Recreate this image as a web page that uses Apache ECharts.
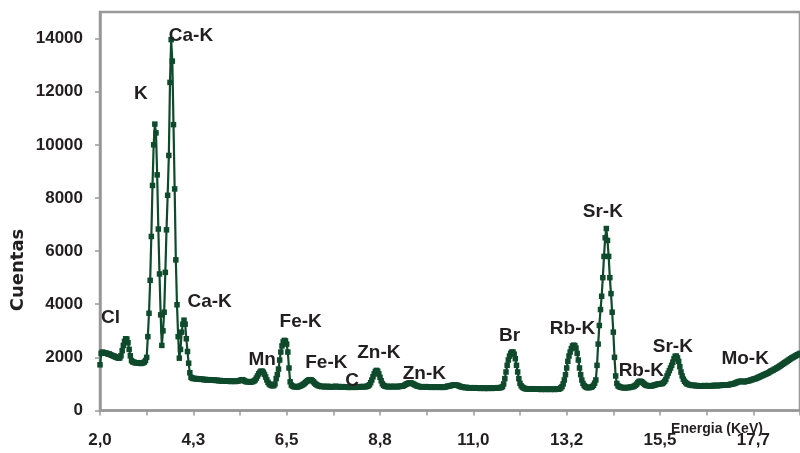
<!DOCTYPE html>
<html>
<head>
<meta charset="utf-8">
<script src="https://cdn.jsdelivr.net/npm/echarts@6/dist/echarts.min.js"></script>
<style>html,body{margin:0;padding:0;background:#fff;}#c{width:800px;height:453px;}</style>
</head>
<body>
<div id="c"></div>
<script>
// Energy axis (keV): first channel and channel width
const energyStart = 2.04;
const energyStep = 0.028;
// X tick labels, one every 80 channels
const xTickLabels = ['2,0', '4,3', '6,5', '8,8', '11,0', '13,2', '15,5', '17,7'];
// Y tick values
const yTickValues = [0, 2000, 4000, 6000, 8000, 10000, 12000, 14000];

// Counts per channel
const counts = [
1720, 2150, 2200, 2180, 2170, 2160, 2150, 2120, 2130, 2100,
2080, 2060, 2050, 2020, 2000, 1990, 1970, 1980, 2060, 2250,
2450, 2600, 2700, 2690, 2550, 2300, 2060, 1880, 1830, 1820,
1800, 1790, 1800, 1780, 1790, 1770, 1780, 1800, 1820, 1880,
2000, 2780, 3660, 4900, 6550, 8470, 10000, 10780, 10450, 8870,
6830, 5140, 3600, 2450, 3000, 3700, 5200, 6800, 8100, 9600,
12350, 13960, 13150, 10760, 8340, 5670, 3980, 2780, 1970, 2300,
2950, 3250, 3400, 3250, 2700, 2220, 1780, 1420, 1250, 1220,
1200, 1210, 1190, 1200, 1180, 1190, 1180, 1170, 1180, 1160,
1170, 1150, 1160, 1150, 1160, 1140, 1150, 1140, 1150, 1130,
1140, 1130, 1120, 1130, 1110, 1120, 1110, 1120, 1100, 1110,
1100, 1110, 1090, 1100, 1110, 1100, 1090, 1100, 1110, 1120,
1130, 1150, 1160, 1140, 1110, 1090, 1080, 1090, 1080, 1070,
1080, 1090, 1110, 1150, 1220, 1300, 1380, 1440, 1480, 1480,
1440, 1360, 1260, 1150, 1060, 1000, 960, 940, 930, 940,
1000, 1200, 1350, 1560, 1900, 2200, 2430, 2580, 2640, 2620,
2500, 2200, 1600, 1080, 960, 920, 900, 890, 900, 880,
900, 910, 930, 950, 980, 1010, 1050, 1090, 1120, 1150,
1160, 1150, 1120, 1080, 1030, 990, 960, 940, 920, 910,
900, 910, 900, 890, 900, 910, 900, 890, 880, 900,
890, 900, 910, 900, 890, 900, 880, 890, 900, 890,
880, 890, 880, 870, 880, 870, 880, 890, 880, 870,
880, 890, 880, 900, 890, 900, 900, 890, 900, 910,
930, 970, 1050, 1150, 1270, 1380, 1470, 1510, 1480, 1380,
1250, 1120, 1010, 950, 920, 910, 900, 890, 900, 910,
900, 890, 900, 910, 900, 890, 900, 910, 920, 910,
930, 950, 980, 1000, 1020, 1040, 1040, 1030, 1010, 990,
960, 940, 920, 910, 900, 890, 890, 880, 890, 900,
890, 880, 890, 880, 870, 880, 890, 880, 870, 880,
890, 880, 870, 880, 870, 880, 890, 900, 910, 920,
930, 940, 950, 960, 960, 960, 950, 940, 920, 900,
890, 880, 870, 860, 870, 860, 850, 860, 850, 840,
850, 860, 850, 840, 850, 840, 830, 840, 850, 840,
830, 840, 830, 840, 850, 840, 830, 840, 850, 840,
850, 860, 850, 860, 870, 900, 1000, 1200, 1450, 1700,
1900, 2050, 2150, 2200, 2200, 2120, 1950, 1700, 1450, 1200,
1020, 930, 880, 850, 830, 820, 810, 820, 810, 800,
810, 820, 810, 800, 810, 800, 810, 800, 790, 800,
810, 800, 790, 800, 810, 800, 790, 800, 810, 800,
790, 800, 810, 800, 820, 850, 900, 1000, 1150, 1350,
1600, 1850, 2050, 2200, 2330, 2430, 2460, 2440, 2350, 2150,
1900, 1600, 1350, 1150, 1020, 940, 900, 870, 860, 860,
870, 880, 900, 950, 1030, 1150, 1700, 2500, 3200, 3800,
4300, 5000, 5800, 6500, 6850, 6400, 5800, 5000, 4400, 3700,
2950, 2000, 1300, 1020, 930, 900, 880, 870, 860, 860,
850, 860, 870, 860, 870, 880, 890, 900, 920, 950,
990, 1050, 1090, 1100, 1090, 1060, 1020, 980, 950, 940,
930, 930, 920, 930, 940, 950, 970, 980, 990, 1000,
1000, 1010, 1020, 1050, 1100, 1170, 1300, 1400, 1500, 1600,
1700, 1820, 1950, 2040, 2050, 1980, 1850, 1650, 1450, 1300,
1180, 1100, 1050, 1010, 990, 970, 960, 950, 940, 950,
940, 930, 940, 930, 920, 930, 920, 930, 940, 930,
920, 930, 940, 930, 920, 930, 940, 950, 940, 930,
940, 950, 940, 950, 960, 950, 960, 970, 960, 970,
980, 990, 1000, 1010, 1020, 1040, 1060, 1080, 1090, 1100,
1100, 1090, 1080, 1090, 1100, 1110, 1120, 1130, 1150, 1160,
1180, 1190, 1200, 1220, 1240, 1260, 1280, 1300, 1320, 1340,
1360, 1380, 1400, 1420, 1450, 1480, 1500, 1520, 1550, 1570,
1600, 1620, 1650, 1680, 1710, 1740, 1770, 1800, 1830, 1860,
1890, 1920, 1950, 1980, 2000, 2030, 2050, 2080, 2100, 2120,
2150
];

// Peak annotations: text, anchor energy (keV) and anchor counts
const peakNames   = ['Cl', 'K', 'Ca-K', 'Ca-K', 'Mn', 'Fe-K', 'Fe-K', 'C', 'Zn-K', 'Zn-K', 'Br', 'Rb-K', 'Sr-K', 'Rb-K', 'Sr-K', 'Mo-K'];
const peakEnergy  = [2.30, 3.02, 4.22, 4.66, 5.94, 6.85, 7.48, 8.10, 8.74, 9.82, 11.86, 13.38, 14.11, 15.02, 15.80, 17.53];
const peakCountsY = [3480, 11930, 14100, 4100, 1920, 3350, 1810, 1110, 2180, 1370, 2800, 3070, 7470, 1490, 2410, 1940];

const categories = counts.map((_, i) => (energyStart + energyStep * i).toFixed(3));

const FONT = "'Liberation Sans', Arial, Helvetica, sans-serif";
const TXT = '#231f20';
const AX = '#999999';
const GREEN = '#0e4a2b';

const chart = echarts.init(document.getElementById('c'), null, { renderer: 'canvas' });
chart.setOption({
  animation: false,
  backgroundColor: '#ffffff',
  grid: { left: 100, right: -2, top: 12, bottom: 42.5, show: true, borderColor: AX, borderWidth: 2.5, backgroundColor: 'transparent' },
  xAxis: {
    type: 'category',
    data: categories,
    boundaryGap: false,
    axisLine: { show: true, lineStyle: { color: AX, width: 2.5 } },
    axisTick: { show: true, interval: 39, length: 5, lineStyle: { color: AX, width: 1.5 } },
    axisLabel: {
      interval: 79, margin: 21,
      fontFamily: FONT, fontWeight: 'bold', fontSize: 17, color: TXT,
      formatter: (v, idx) => xTickLabels[Math.round(idx / 80)] || ''
    },
    splitLine: { show: false }
  },
  yAxis: {
    type: 'value',
    min: 0, max: 15000, interval: 2000,
    axisLine: { show: true, lineStyle: { color: AX, width: 2.5 } },
    axisTick: { show: true, length: 5, customValues: yTickValues, lineStyle: { color: AX, width: 1.5 } },
    axisLabel: {
      margin: 17, customValues: yTickValues,
      fontFamily: FONT, fontWeight: 'bold', fontSize: 17, color: TXT,
      formatter: v => String(v)
    },
    splitLine: { show: false }
  },
  graphic: [
    { type: 'text', x: 18.5, y: 270, rotation: Math.PI / 2,
      style: { text: 'Cuentas', font: "bold 18px 'DejaVu Sans', sans-serif", fill: TXT, align: 'center', verticalAlign: 'middle' } },
    { type: 'text', x: 717, y: 429,
      style: { text: 'Energia (KeV)', font: "bold 14px 'Liberation Sans', Arial, sans-serif", fill: TXT, align: 'center', verticalAlign: 'middle' } }
  ],
  series: [{
    type: 'line',
    data: counts,
    symbol: 'rect',
    symbolSize: 5.5,
    showAllSymbol: true,
    itemStyle: { color: GREEN },
    lineStyle: { color: GREEN, width: 2.2 },
    markPoint: {
      silent: true,
      symbol: 'rect',
      symbolSize: 1,
      itemStyle: { color: 'rgba(0,0,0,0)' },
      label: { show: true, position: 'inside', formatter: '{b}', fontFamily: FONT, fontWeight: 'bold', fontSize: 19, color: TXT },
      data: peakNames.map((n, k) => ({ name: n, coord: [(peakEnergy[k] - energyStart) / energyStep, peakCountsY[k]] }))
    }
  }]
});
</script>
</body>
</html>
